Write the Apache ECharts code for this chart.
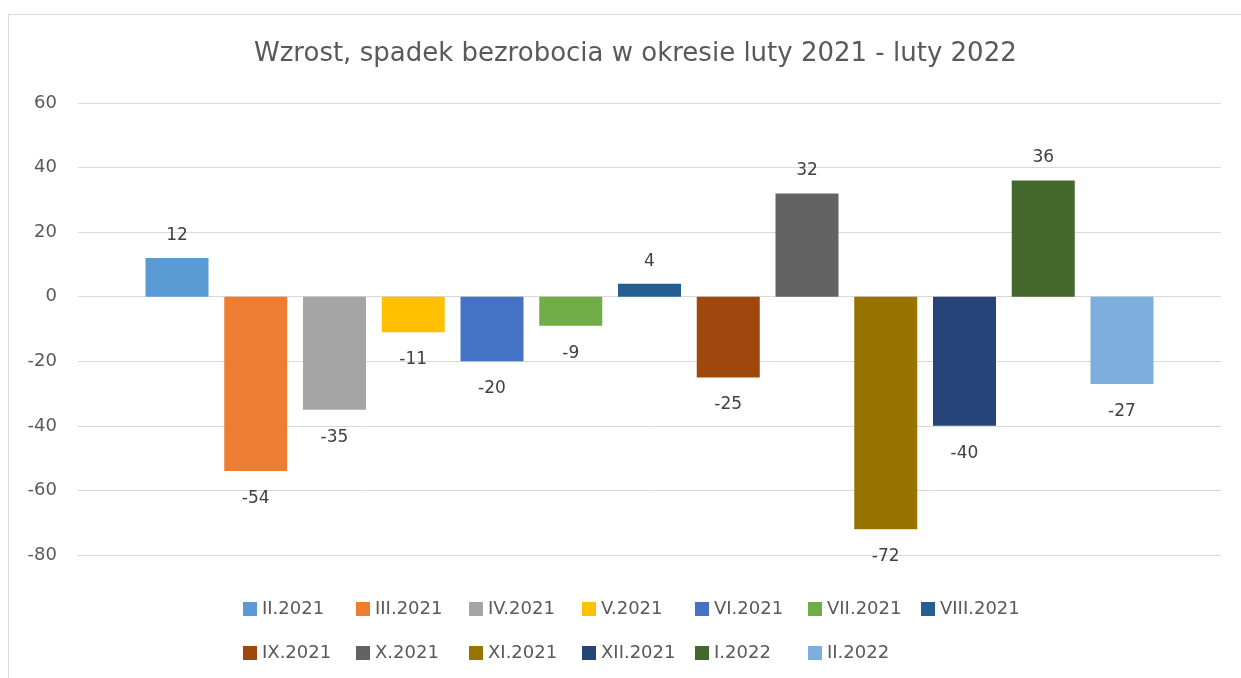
<!DOCTYPE html>
<html>
<head>
<meta charset="utf-8">
<script src="https://cdn.jsdelivr.net/npm/echarts@6/dist/echarts.min.js"></script>
<style>
  html, body { margin: 0; padding: 0; background: #fff; }
  #chart { width: 1241px; height: 678px; }
</style>
</head>
<body>
<div id="chart"></div>
<script>
// miesiące (serie) i zmiany bezrobocia
const months = ['II.2021', 'III.2021', 'IV.2021', 'V.2021', 'VI.2021', 'VII.2021', 'VIII.2021',
  'IX.2021', 'X.2021', 'XI.2021', 'XII.2021', 'I.2022', 'II.2022'];
const changes = [12, -54, -35, -11, -20, -9, 4, -25, 32, -72, -40, 36, -27];
const colors = ['#5B9BD5', '#ED7D31', '#A5A5A5', '#FFC000', '#4472C4', '#70AD47', '#255E91',
  '#9E480E', '#636363', '#997300', '#264478', '#43682B', '#7CAFDD'];
const yTicks = { min: -80, max: 60, step: 20 };

const font = 'DejaVu Sans';

let series = months.map((m, i) => ({
  name: m,
  type: 'bar',
  data: [changes[i]],
  barWidth: 63,
  barGap: '25%',
  itemStyle: { color: colors[i] },
  label: {
    show: true,
    position: changes[i] >= 0 ? 'top' : 'bottom',
    distance: changes[i] >= 0 ? 14 : 19,
    color: '#404040',
    fontFamily: font,
    fontSize: 17
  }
}));

let chart = echarts.init(document.getElementById('chart'));
chart.setOption({
  animation: false,
  graphic: [{
    type: 'rect',
    shape: { x: 8.5, y: 14.5, width: 1400, height: 900 },
    style: { fill: null, stroke: '#D9D9D9', lineWidth: 1 },
    silent: true
  }],
  title: {
    text: 'Wzrost, spadek bezrobocia w okresie luty 2021 - luty 2022',
    left: 249,
    top: 36,
    textStyle: { fontFamily: font, fontSize: 26, fontWeight: 'normal', color: '#595959' }
  },
  legend: {
    data: months,
    left: 238,
    top: 587,
    width: 800,
    itemWidth: 14,
    itemHeight: 14,
    itemGap: 10,
    icon: 'rect',
    textStyle: { fontFamily: font, fontSize: 18, color: '#595959', width: 84, lineHeight: 34 }
  },
  grid: { left: 78, right: 20, top: 103, bottom: 123, containLabel: false },
  xAxis: {
    type: 'category',
    data: [''],
    axisLine: { show: false },
    axisTick: { show: false },
    axisLabel: { show: false }
  },
  yAxis: {
    type: 'value',
    min: yTicks.min,
    max: yTicks.max,
    interval: yTicks.step,
    axisLine: { show: false },
    axisTick: { show: false },
    axisLabel: { margin: 21, fontFamily: font, fontSize: 18, color: '#595959' },
    splitLine: { lineStyle: { color: '#D9D9D9', width: 1 } }
  },
  series: series
});
</script>
</body>
</html>
